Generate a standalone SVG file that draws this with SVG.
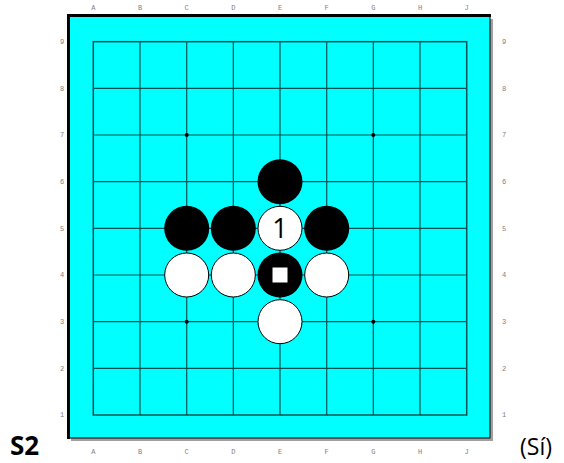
<svg xmlns="http://www.w3.org/2000/svg" width="564" height="463" viewBox="0 0 564 463">
<style>
.lbl{font-family:"Liberation Mono",monospace;font-size:7px;fill:#808080;text-anchor:middle}
.g{stroke:#005252;stroke-width:1.2;fill:none}
.b{fill:#000}
.w{fill:#fff;stroke:#000;stroke-width:1}
</style>
<rect id="shadow" x="71" y="19" width="422" height="422" fill="#a0a0a0"/>
<rect id="board" x="68" y="16" width="422" height="422" fill="#00ffff" stroke="#000" stroke-width="1"/>
<path d="M68.5 439 V15.5 H491" stroke="#000" stroke-width="3" fill="none"/>
<g id="grid" class="g">
<rect x="93.3" y="41.7" width="373.4" height="373.3" stroke-width="1.5"/>
<path d="M140 41.7V415M186.7 41.7V415M233.3 41.7V415M280 41.7V415M326.7 41.7V415M373.3 41.7V415M420 41.7V415"/>
<path d="M93.3 88.3H466.7M93.3 135H466.7M93.3 181.7H466.7M93.3 228.3H466.7M93.3 275H466.7M93.3 321.7H466.7M93.3 368.3H466.7"/>
</g>
<g id="hoshi" class="b">
<circle cx="186.7" cy="135" r="2"/><circle cx="373.3" cy="135" r="2"/>
<circle cx="186.7" cy="321.7" r="2"/><circle cx="373.3" cy="321.7" r="2"/>
</g>
<g id="labels-top" class="lbl">
<text x="93.3" y="10">A</text><text x="140" y="10">B</text><text x="186.7" y="10">C</text><text x="233.3" y="10">D</text><text x="280" y="10">E</text><text x="326.7" y="10">F</text><text x="373.3" y="10">G</text><text x="420" y="10">H</text><text x="466.7" y="10">J</text>
</g>
<g id="labels-bottom" class="lbl">
<text x="93.3" y="454">A</text><text x="140" y="454">B</text><text x="186.7" y="454">C</text><text x="233.3" y="454">D</text><text x="280" y="454">E</text><text x="326.7" y="454">F</text><text x="373.3" y="454">G</text><text x="420" y="454">H</text><text x="466.7" y="454">J</text>
</g>
<g id="labels-left" class="lbl">
<text x="62" y="44">9</text><text x="62" y="90.5">8</text><text x="62" y="137">7</text><text x="62" y="184">6</text><text x="62" y="230.5">5</text><text x="62" y="277">4</text><text x="62" y="324">3</text><text x="62" y="370.5">2</text><text x="62" y="417">1</text>
</g>
<g id="labels-right" class="lbl">
<text x="504" y="44">9</text><text x="504" y="90.5">8</text><text x="504" y="137">7</text><text x="504" y="184">6</text><text x="504" y="230.5">5</text><text x="504" y="277">4</text><text x="504" y="324">3</text><text x="504" y="370.5">2</text><text x="504" y="417">1</text>
</g>
<g id="stone-E6"><circle class="b" cx="280" cy="181.7" r="22.5"/></g>
<g id="stone-C5"><circle class="b" cx="186.7" cy="228.3" r="22.5"/></g>
<g id="stone-D5"><circle class="b" cx="233.3" cy="228.3" r="22.5"/></g>
<g id="stone-F5"><circle class="b" cx="326.7" cy="228.3" r="22.5"/></g>
<g id="stone-E5"><circle class="w" cx="280" cy="228.3" r="22"/><text x="280" y="238" font-family="'Open Sans',sans-serif" font-size="27" text-anchor="middle" fill="#000">1</text></g>
<g id="stone-C4"><circle class="w" cx="186.7" cy="275" r="22"/></g>
<g id="stone-D4"><circle class="w" cx="233.3" cy="275" r="22"/></g>
<g id="stone-F4"><circle class="w" cx="326.7" cy="275" r="22"/></g>
<g id="stone-E4"><circle class="b" cx="280" cy="275" r="22.5"/><rect x="272.5" y="267.5" width="15" height="15" fill="#fff"/></g>
<g id="stone-E3"><circle class="w" cx="280" cy="321.7" r="22"/></g>
<text x="10" y="455" font-family="'Open Sans',sans-serif" font-weight="bold" font-size="26" fill="#000">S2</text>
<text x="520" y="455" font-family="'Open Sans',sans-serif" font-size="23" fill="#000">(Sí)</text>
</svg>
